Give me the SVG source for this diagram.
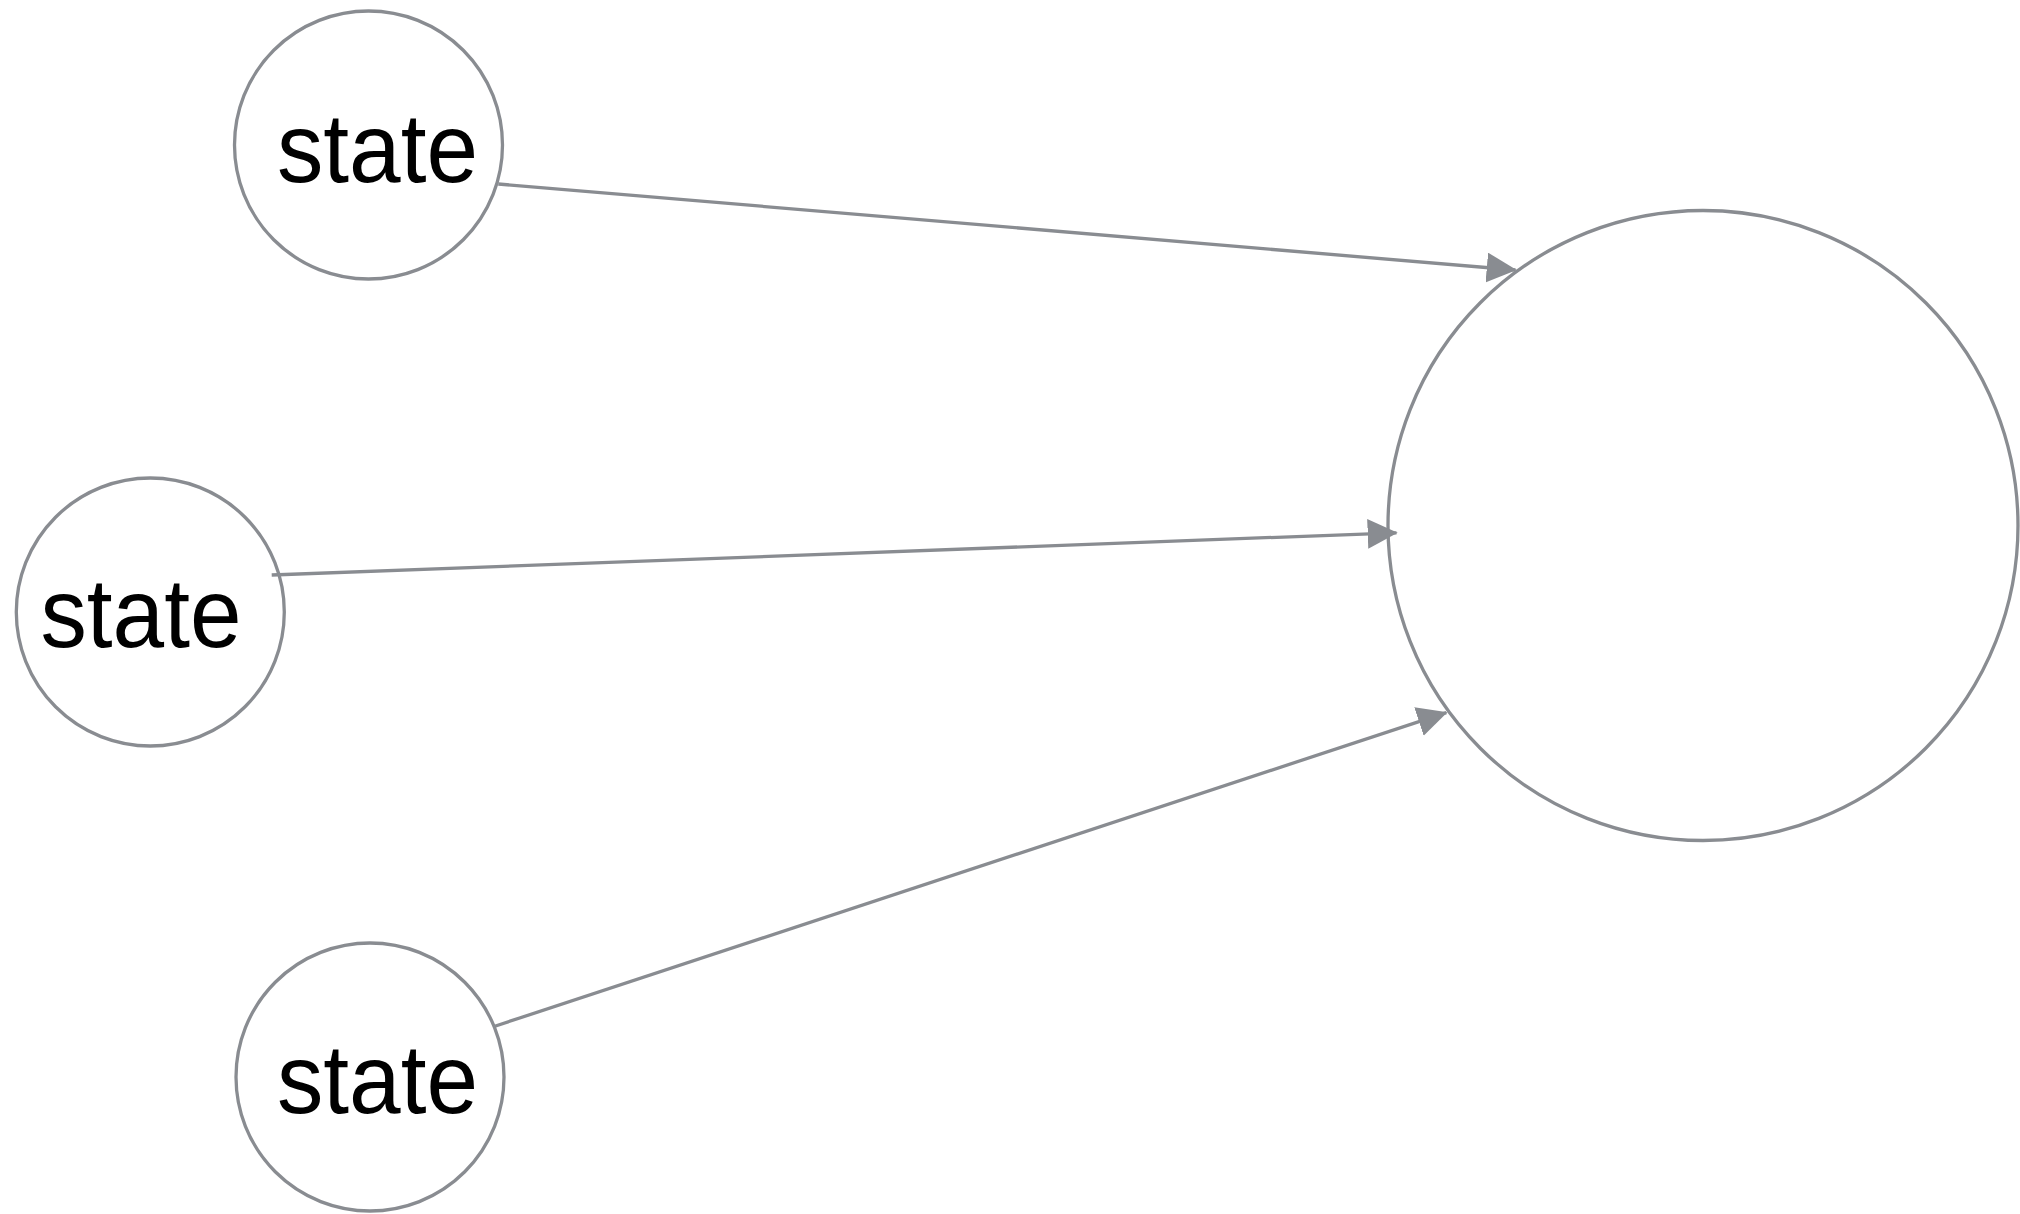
<svg xmlns="http://www.w3.org/2000/svg" width="2020" height="1214" viewBox="0 0 2020 1214">
  <style>
    .node { fill: #ffffff; stroke: #898c91; stroke-width: 3.3; }
    .label { font-family: "Liberation Sans", Arial, Helvetica, sans-serif; font-size: 98px; fill: #000000; text-anchor: middle; }
    .edge { stroke: #898c91; stroke-width: 3.3; fill: none; marker-end: url(#arrow); }
  </style>
  <defs>
    <marker id="arrow" markerUnits="userSpaceOnUse" markerWidth="30" markerHeight="30" viewBox="0 0 25 25" refX="24" refY="12.5" orient="auto">
      <path d="M0,0 L25,12.5 L0,25 Z" fill="#898c91"/>
    </marker>
  </defs>
  <rect x="0" y="0" width="2020" height="1214" fill="#ffffff"/>
  <g id="node-target">
    <circle class="node" cx="1703" cy="525.5" r="315"/>
  </g>
  <g id="node-state-1">
    <circle class="node" cx="368.5" cy="145" r="134"/>
    <text class="label" x="377.5" y="181.7" textLength="201" lengthAdjust="spacingAndGlyphs">state</text>
  </g>
  <g id="node-state-2">
    <circle class="node" cx="150.3" cy="612" r="134"/>
    <text class="label" x="141" y="646.7" textLength="201" lengthAdjust="spacingAndGlyphs">state</text>
  </g>
  <g id="node-state-3">
    <circle class="node" cx="370" cy="1077" r="134"/>
    <text class="label" x="377.5" y="1112.7" textLength="201" lengthAdjust="spacingAndGlyphs">state</text>
  </g>
  <g id="connectors">
    <line class="edge" x1="498.3" y1="184" x2="1515.5" y2="270"/>
    <line class="edge" x1="271.7" y1="575" x2="1396.5" y2="532.8"/>
    <line class="edge" x1="493.3" y1="1026.7" x2="1446.3" y2="712.6"/>
  </g>
</svg>
